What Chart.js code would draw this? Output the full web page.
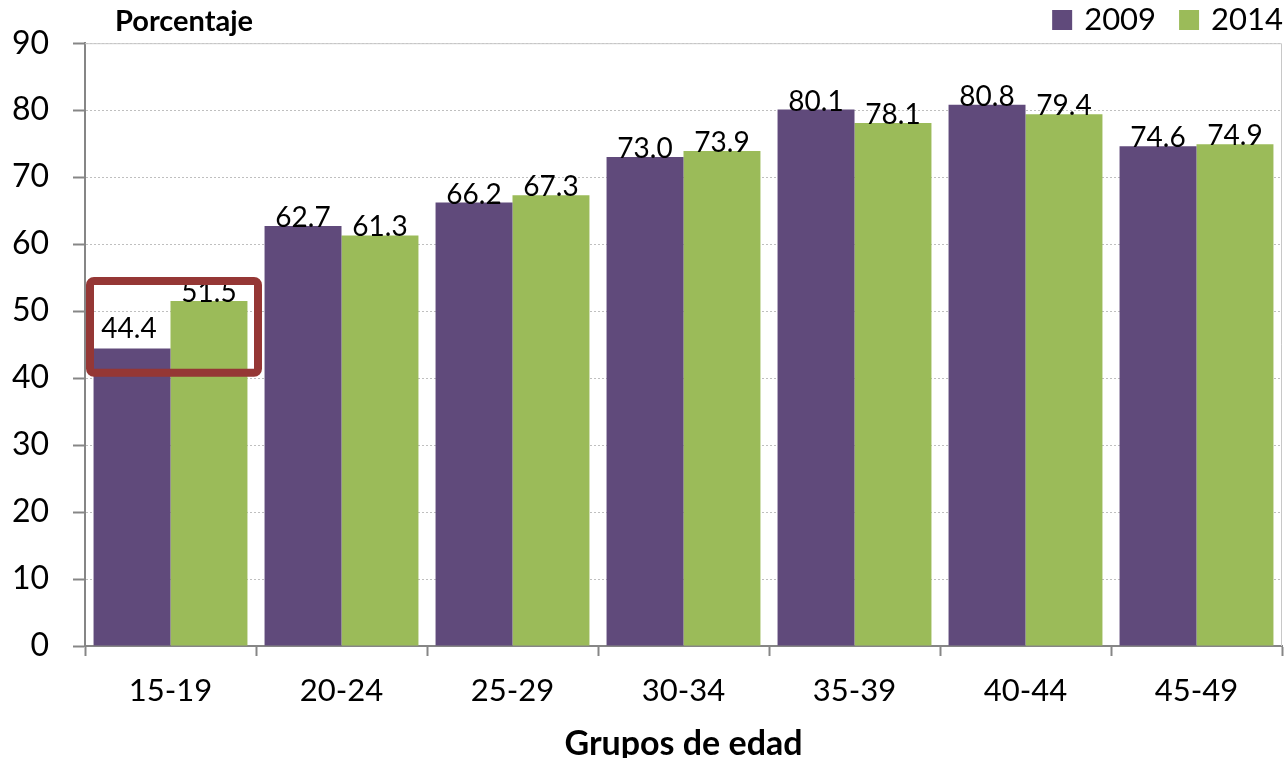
<!DOCTYPE html>
<html>
<head>
<meta charset="utf-8">
<script src="https://cdn.jsdelivr.net/npm/chart.js@4/dist/chart.umd.min.js"></script>
<style>
  html, body { margin: 0; padding: 0; background: #fff; }
  #wrap { width: 1284px; height: 758px; }
</style>
</head>
<body>
<div id="wrap"><canvas id="chart" width="1284" height="758"></canvas></div>
<script>
const ageGroups = ['15-19', '20-24', '25-29', '30-34', '35-39', '40-44', '45-49'];
const values2009 = [44.4, 62.7, 66.2, 73.0, 80.1, 80.8, 74.6];
const values2014 = [51.5, 61.3, 67.3, 73.9, 78.1, 79.4, 74.9];
const yTicks = [0, 10, 20, 30, 40, 50, 60, 70, 80, 90];

const FONT = 'Lato, "Open Sans", sans-serif';

// value labels on top of each bar
const barLabels = {
    id: 'barLabels',
    afterDatasetsDraw(chart) {
        const ctx = chart.ctx;
        ctx.save();
        ctx.font = '28px ' + FONT;
        ctx.fillStyle = '#000';
        ctx.textAlign = 'center';
        ctx.textBaseline = 'alphabetic';
        chart.data.datasets.forEach((ds, i) => {
            chart.getDatasetMeta(i).data.forEach((bar, j) => {
                // the first 2009 label sits a bit higher in the original
                const lift = (i === 0 && j === 0) ? 12 : 0;
                ctx.fillText(ds.data[j].toFixed(1), bar.x - (lift ? 3 : 0), bar.y + 1 - lift);
            });
        });
        ctx.restore();
    }
};

// plot border, legend, "Porcentaje" and the red box round the 15-19 group
const extras = {
    id: 'extras',
    beforeDatasetsDraw(chart) {
        const { ctx, chartArea } = chart;
        ctx.save();
        ctx.strokeStyle = '#c8c8c8';
        ctx.lineWidth = 1;
        ctx.beginPath();
        ctx.moveTo(chartArea.left, chartArea.top + 0.5);
        ctx.lineTo(chartArea.right - 0.5, chartArea.top + 0.5);
        ctx.lineTo(chartArea.right - 0.5, chartArea.bottom);
        ctx.stroke();
        ctx.restore();
    },
    afterDraw(chart) {
        const { ctx } = chart;
        const x = chart.scales.x, y = chart.scales.y;
        ctx.save();
        ctx.font = 'bold 29px ' + FONT;
        ctx.fillStyle = '#000';
        ctx.textBaseline = 'middle';
        ctx.textAlign = 'left';
        ctx.fillText('Porcentaje', 115, 22);

        // legend, right aligned
        ctx.font = '31px ' + FONT;
        const items = chart.data.datasets.map(ds => ({ text: ds.label, color: ds.backgroundColor }));
        let right = 1283;
        for (let k = items.length - 1; k >= 0; k--) {
            const w = ctx.measureText(items[k].text).width;
            ctx.fillStyle = '#000';
            ctx.fillText(items[k].text, right - w, 20);
            ctx.fillStyle = items[k].color;
            ctx.fillRect(right - w - 32, 10, 20, 20);
            right = right - w - 55;
        }

        const half = (x.getPixelForValue(1) - x.getPixelForValue(0)) / 2;
        const cx = x.getPixelForValue(0);
        const top = y.getPixelForValue(54.5);
        const bottom = y.getPixelForValue(40.8);
        ctx.strokeStyle = '#953735';
        ctx.lineWidth = 8;
        ctx.beginPath();
        ctx.roundRect(cx - half + 5, top, 2 * half - 3, bottom - top, 4);
        ctx.stroke();
        ctx.restore();
    }
};

new Chart(document.getElementById('chart'), {
    type: 'bar',
    data: {
        labels: ageGroups,
        datasets: [
            { label: '2009', data: values2009, backgroundColor: '#604A7B' },
            { label: '2014', data: values2014, backgroundColor: '#9BBB59' }
        ]
    },
    options: {
        responsive: false,
        animation: false,
        layout: { padding: { left: 0, right: 2, top: 34, bottom: 0 } },
        datasets: { bar: { categoryPercentage: 0.9, barPercentage: 1.0 } },
        scales: {
            x: {
                afterFit(axis) { axis.height = 112; },
                grid: { offset: true, drawOnChartArea: false, tickLength: 10, color: '#868686', tickWidth: 2 },
                border: { color: '#868686', width: 2 },
                ticks: { font: { family: FONT, size: 31 }, color: '#000', padding: 16 },
                title: { display: true, text: 'Grupos de edad', font: { family: FONT, size: 34, weight: 'bold' }, color: '#000', padding: { top: 0, bottom: -6 } }
            },
            y: {
                min: 0,
                max: 90,
                afterFit(axis) { axis.width = 85; },
                afterBuildTicks(axis) { axis.ticks = yTicks.map(v => ({ value: v })); },
                grid: { color: '#bfbfbf', tickColor: '#868686', tickLength: 12, tickWidth: 2, lineWidth: 1 },
                border: { color: '#868686', width: 2, dash: [2, 2] },
                ticks: { font: { family: FONT, size: 32 }, color: '#000', padding: 24 }
            }
        },
        plugins: {
            legend: { display: false },
            tooltip: { enabled: false }
        }
    },
    plugins: [barLabels, extras]
});
</script>
</body>
</html>
